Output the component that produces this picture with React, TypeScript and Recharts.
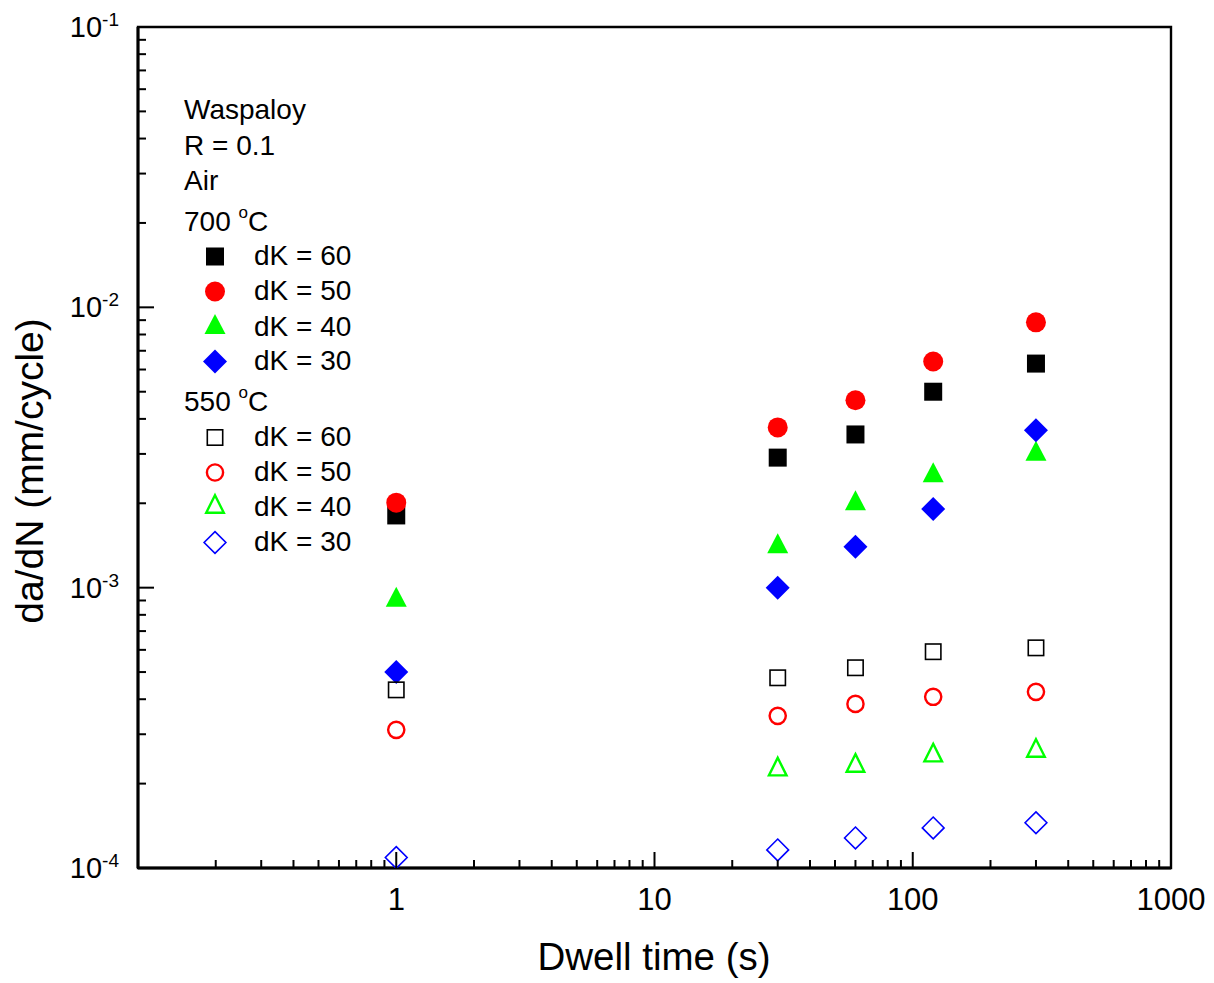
import React from 'react';
import { ScatterChart, Scatter, XAxis, YAxis, ReferenceArea } from 'recharts';

// dwell time (s) for every series
const dwellTimes = [1, 30, 60, 120, 300];

// 700 °C, da/dN (mm/cycle)
const hot60 = [1.81e-3, 2.91e-3, 3.52e-3, 5.0e-3, 6.3e-3];
const hot50 = [2.01e-3, 3.73e-3, 4.66e-3, 6.41e-3, 8.84e-3];
const hot40 = [9.29e-4, 1.44e-3, 2.05e-3, 2.58e-3, 3.08e-3];
const hot30 = [5.0e-4, 1.0e-3, 1.4e-3, 1.91e-3, 3.64e-3];

// 550 °C
const warm60 = [4.32e-4, 4.77e-4, 5.18e-4, 5.91e-4, 6.1e-4];
const warm50 = [3.11e-4, 3.49e-4, 3.85e-4, 4.08e-4, 4.25e-4];
const warm40 = [null, 2.3e-4, 2.37e-4, 2.58e-4, 2.68e-4];
const warm30 = [1.09e-4, 1.16e-4, 1.28e-4, 1.39e-4, 1.45e-4];

const xDecades = [0.1, 1, 10, 100, 1000];
const xLabels = [1, 10, 100, 1000];
const yDecades = [1e-4, 1e-3, 1e-2, 1e-1];
const minorSteps = [2, 3, 4, 5, 6, 7, 8, 9];

const FONT = '"Liberation Sans", Arial, Helvetica, sans-serif';
const RED = '#ff0000';
const GREEN = '#00ff00';
const BLUE = '#0000ff';
const BLACK = '#000000';

const withMinors = (decades: number[]) => {
  const out: number[] = [];
  decades.forEach((d, i) => {
    out.push(d);
    if (i < decades.length - 1) minorSteps.forEach((m) => out.push(+(d * m).toPrecision(6)));
  });
  return out;
};
const xTicks = withMinors(xDecades);
const yTicks = withMinors(yDecades);

const isDecade = (v: number) => {
  const l = Math.log10(v);
  return Math.abs(l - Math.round(l)) < 1e-6;
};

const toPoints = (vals: (number | null)[]) =>
  dwellTimes
    .map((x, i) => ({ x, y: vals[i] }))
    .filter((p) => p.y !== null);

type Kind = 'square' | 'circle' | 'triangle' | 'diamond';

const Glyph = ({ kind, cx, cy, color, filled }: { kind: Kind; cx: number; cy: number; color: string; filled: boolean }) => {
  const sw = filled ? 0 : kind === 'circle' || kind === 'triangle' ? 2.4 : 1.6;
  const common = { fill: filled ? color : 'none', stroke: filled ? 'none' : color, strokeWidth: sw };
  if (kind === 'square') {
    const h = filled ? 9 : 8.5 - sw / 2;
    return <rect x={cx - h} y={cy - h} width={2 * h} height={2 * h} {...common} />;
  }
  if (kind === 'circle') {
    const r = filled ? 10 : 9.3 - sw / 2;
    return <circle cx={cx} cy={cy} r={r} {...common} />;
  }
  if (kind === 'triangle') {
    const hw = filled ? 10.5 : 10 - sw / 2;
    const hh = filled ? 10 : 10 - sw / 2;
    return <polygon points={`${cx},${cy - hh} ${cx + hw},${cy + hh} ${cx - hw},${cy + hh}`} {...common} strokeLinejoin="miter" />;
  }
  const h = filled ? 12 : 11.7 - sw / 2;
  return <polygon points={`${cx},${cy - h} ${cx + h},${cy} ${cx},${cy + h} ${cx - h},${cy}`} {...common} />;
};

const shapeOf = (kind: Kind, color: string, filled: boolean) => (props: any) =>
  <Glyph kind={kind} cx={props.cx} cy={props.cy} color={color} filled={filled} />;

const series = [
  { name: '700-60', data: hot60, kind: 'square' as Kind, color: BLACK, filled: true },
  { name: '700-50', data: hot50, kind: 'circle' as Kind, color: RED, filled: true },
  { name: '700-40', data: hot40, kind: 'triangle' as Kind, color: GREEN, filled: true },
  { name: '700-30', data: hot30, kind: 'diamond' as Kind, color: BLUE, filled: true },
  { name: '550-60', data: warm60, kind: 'square' as Kind, color: BLACK, filled: false },
  { name: '550-50', data: warm50, kind: 'circle' as Kind, color: RED, filled: false },
  { name: '550-40', data: warm40, kind: 'triangle' as Kind, color: GREEN, filled: false },
  { name: '550-30', data: warm30, kind: 'diamond' as Kind, color: BLUE, filled: false },
];

const XTick = (props: any) => {
  const { x, y, payload } = props;
  const v = payload.value;
  const major = isDecade(v);
  return (
    <g>
      <line x1={x} x2={x} y1={y} y2={y - (major ? 16 : 8)} stroke={BLACK} strokeWidth={2} />
      {major && xLabels.some((l) => Math.abs(l - v) < 1e-9) && (
        <text x={x} y={y + 42} textAnchor="middle" fontFamily={FONT} fontSize={31} fill={BLACK}>
          {String(Math.round(v))}
        </text>
      )}
    </g>
  );
};

const YTick = (props: any) => {
  const { x, y, payload } = props;
  const v = payload.value;
  const major = isDecade(v);
  const exp = Math.round(Math.log10(v));
  return (
    <g>
      <line x1={x} x2={x + (major ? 16 : 8)} y1={y} y2={y} stroke={BLACK} strokeWidth={2} />
      {major && (
        <text x={x - 19} y={y + 10} textAnchor="end" fontFamily={FONT} fill={BLACK}>
          <tspan fontSize={29}>10</tspan>
          <tspan fontSize={19} dy={-11}>{String(exp)}</tspan>
        </text>
      )}
    </g>
  );
};

const legendHeaders = [
  { text: 'Waspaloy', y: 119 },
  { text: 'R = 0.1', y: 155 },
  { text: 'Air', y: 190 },
];
const legendGroups = [
  { temp: '700', y: 231, rows: [265, 300, 336, 370], start: 0 },
  { temp: '550', y: 411, rows: [446, 481, 516, 551], start: 4 },
];
const dkLabels = ['dK = 60', 'dK = 50', 'dK = 40', 'dK = 30'];

// drawn in page pixels: the svg is shifted back over the 8px body margin
const Overlay = () => (
  <svg
    width={1214}
    height={983}
    style={{ position: 'absolute', left: -8, top: -8, pointerEvents: 'none', overflow: 'visible' }}
  >
    <g fontFamily={FONT} fill={BLACK}>
      {legendHeaders.map((h) => (
        <text key={h.text} x={184} y={h.y} fontSize={28}>{h.text}</text>
      ))}
      {legendGroups.map((g) => (
        <g key={g.temp}>
          <text x={184} y={g.y} fontSize={28}>
            {g.temp + ' '}
            <tspan fontSize={17} dy={-13}>o</tspan>
            <tspan fontSize={28} dy={13}>C</tspan>
          </text>
          {g.rows.map((ry, i) => {
            const s = series[g.start + i];
            const off = s.kind === 'triangle' ? 12 : 8.5;
            return (
              <g key={ry}>
                <Glyph kind={s.kind} cx={215} cy={ry - off} color={s.color} filled={s.filled} />
                <text x={254} y={ry} fontSize={28}>{dkLabels[i]}</text>
              </g>
            );
          })}
        </g>
      ))}
      <text x={654} y={970} textAnchor="middle" fontSize={38.5}>Dwell time (s)</text>
      <text x={43} y={471} transform="rotate(-90, 43, 471)" textAnchor="middle" fontSize={39}>
        da/dN (mm/cycle)
      </text>
    </g>
  </svg>
);

export default function App() {
  return (
    <div style={{ position: 'relative', width: 1200, height: 970, background: '#fff' }}>
      <ScatterChart width={1200} height={970} margin={{ top: 19, right: 37, bottom: 0, left: 0 }}>
        <XAxis
          dataKey="x"
          type="number"
          scale="log"
          domain={[0.1, 1000]}
          allowDataOverflow
          ticks={xTicks}
          interval={0}
          tickSize={0}
          tickMargin={0}
          tickLine={false}
          tick={<XTick />}
          axisLine={{ stroke: BLACK, strokeWidth: 3 }}
          height={110}
        />
        <YAxis
          dataKey="y"
          type="number"
          scale="log"
          domain={[1e-4, 1e-1]}
          allowDataOverflow
          ticks={yTicks}
          interval={0}
          tickSize={0}
          tickMargin={0}
          tickLine={false}
          tick={<YTick />}
          axisLine={{ stroke: BLACK, strokeWidth: 3 }}
          width={130}
        />
        <ReferenceArea
          x1={0.1}
          x2={1000}
          y1={1e-4}
          y2={1e-1}
          fill="none"
          stroke={BLACK}
          strokeWidth={2.4}
          ifOverflow="visible"
        />
        {series.map((s) => (
          <Scatter
            key={s.name}
            name={s.name}
            data={toPoints(s.data)}
            shape={shapeOf(s.kind, s.color, s.filled)}
            isAnimationActive={false}
          />
        ))}
      </ScatterChart>
      <Overlay />
    </div>
  );
}
